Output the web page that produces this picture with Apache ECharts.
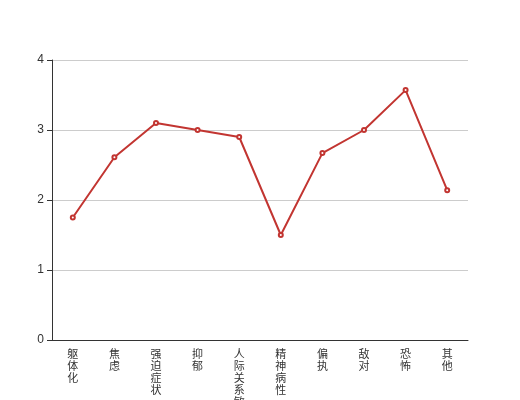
<!DOCTYPE html>
<html><head><meta charset="utf-8">
<script src="https://cdn.jsdelivr.net/npm/echarts@6/dist/echarts.min.js"></script>
<style>html,body{margin:0;padding:0;background:#fff}#c{width:520px;height:400px}</style>
</head><body><div id="c"></div>
<script>
var categories = ['躯体化','焦虑','强迫症状','抑郁','人际关系敏感','精神病性','偏执','敌对','恐怖','其他'];
var values = [1.75, 2.61, 3.1, 3.0, 2.9, 1.5, 2.67, 3.0, 3.57, 2.14];
var yTicks = {min: 0, max: 4, interval: 1};
var chart = echarts.init(document.getElementById('c'), null, {renderer: 'canvas'});
chart.setOption({
  animation: false,
  grid: {left: 52, right: 52, top: 60, bottom: 60, containLabel: false, outerBoundsMode: 'none'},
  xAxis: {
    type: 'category',
    data: categories,
    boundaryGap: true,
    axisLine: {lineStyle: {color: '#333'}},
    axisTick: {lineStyle: {color: '#333'}},
    axisLabel: {
      interval: 0, color: '#333', fontSize: 11, lineHeight: 12, margin: 8,
      fontFamily: 'Noto Sans CJK SC',
      formatter: function (v) { return v.split('').join('\n'); }
    }
  },
  yAxis: {
    type: 'value', min: yTicks.min, max: yTicks.max, interval: yTicks.interval,
    axisLine: {show: true, lineStyle: {color: '#333'}},
    axisTick: {show: true, lineStyle: {color: '#333'}},
    axisLabel: {color: '#333', fontSize: 12},
    splitLine: {lineStyle: {color: '#ccc'}}
  },
  series: [{
    type: 'line', data: values,
    symbol: 'emptyCircle', symbolSize: 4,
    itemStyle: {color: '#c23531'},
    lineStyle: {color: '#c23531', width: 2}
  }]
});
</script></body></html>
